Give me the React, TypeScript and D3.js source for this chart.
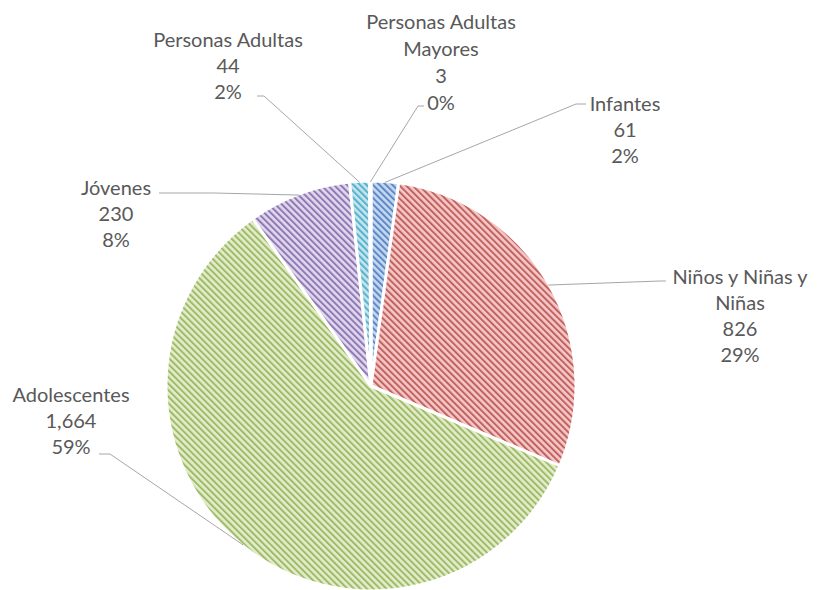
import React from "react";
import * as d3 from "d3";

// ---- data ----
const categories = [
  "Infantes",
  "Niños y Niñas y Niñas",
  "Adolescentes",
  "Jóvenes",
  "Personas Adultas",
  "Personas Adultas Mayores",
];
const values = [61, 826, 1664, 230, 44, 3];
const labelTitleLines = [
  ["Infantes"],
  ["Niños y Niñas y", "Niñas"],
  ["Adolescentes"],
  ["Jóvenes"],
  ["Personas Adultas"],
  ["Personas Adultas", "Mayores"],
];

// ---- styles ----
const patternBg = ["#c6d8f0", "#f4c8c8", "#e3edcc", "#e0d8ee", "#c4e5ef", "#fbd9bd"];
const patternFg = ["#5d88c6", "#c2625f", "#9fbb68", "#9079b3", "#58b2cb", "#f0a060"];

// ---- layout (label placement) ----
const W = 817;
const H = 590;
const cx = 371;
const cy = 386;
const R = 205;
// label center x, first-line center y, line height, leader anchor at text, elbow point
const labelLayout = [
  { x: 625, y: 104, lh: 26, anchor: [586, 104], elbow: [576, 104] },
  { x: 740, y: 277, lh: 26, anchor: [666, 281], elbow: [660, 281] },
  { x: 71, y: 395, lh: 26, anchor: [99, 454], elbow: [110, 454] },
  { x: 116, y: 188, lh: 26, anchor: [159, 193], elbow: [214, 193] },
  { x: 228, y: 40, lh: 26, anchor: [257, 96], elbow: [264, 96] },
  { x: 441, y: 22, lh: 27, anchor: [424, 106], elbow: [418, 106] },
];

export default function App() {
  const total = d3.sum(values);
  const pie = d3
    .pie<number>()
    .sort(null)
    .startAngle(0)
    .endAngle(2 * Math.PI);
  const arcs = pie(values);
  const arc = d3.arc<d3.PieArcDatum<number>>().innerRadius(0).outerRadius(R);
  const fmtNum = d3.format(",");
  const fmtPct = d3.format(".0%");

  return (
    <svg
      width={W}
      height={H}
      style={{ position: "fixed", left: 0, top: 0, background: "#fff" }}
      fontFamily="Lato, 'Open Sans', sans-serif"
    >
      <defs>
        {categories.map((c, i) => (
          <pattern
            key={c}
            id={`hatch${i}`}
            patternUnits="userSpaceOnUse"
            width={4.6}
            height={4.6}
            patternTransform="rotate(-45)"
          >
            <rect width={4.6} height={4.6} fill={patternBg[i]} />
            <rect width={2} height={4.6} fill={patternFg[i]} />
          </pattern>
        ))}
      </defs>
      <rect width={W} height={H} fill="#fff" />
      <g transform={`translate(${cx},${cy})`}>
        {arcs.map((a, i) => (
          <path
            key={categories[i]}
            d={arc(a) || ""}
            fill={`url(#hatch${i})`}
            stroke="#fff"
            strokeWidth={3}
            strokeLinejoin="round"
          />
        ))}
      </g>
      {arcs.map((a, i) => {
        const mid = (a.startAngle + a.endAngle) / 2;
        const px = cx + Math.sin(mid) * (R - 1);
        const py = cy - Math.cos(mid) * (R - 1);
        const L = labelLayout[i];
        return (
          <polyline
            key={"l" + i}
            points={`${L.anchor[0]},${L.anchor[1]} ${L.elbow[0]},${L.elbow[1]} ${px},${py}`}
            fill="none"
            stroke="#a6a6a6"
            strokeWidth={1}
          />
        );
      })}
      {arcs.map((a, i) => {
        const L = labelLayout[i];
        const lines = [
          ...labelTitleLines[i],
          fmtNum(values[i]),
          fmtPct(values[i] / total),
        ];
        return (
          <text
            key={"t" + i}
            x={L.x}
            y={L.y}
            textAnchor="middle"
            fill="#595959"
            fontSize={20}
          >
            {lines.map((ln, j) => (
              <tspan key={j} x={L.x} y={L.y + j * L.lh} dy="0.35em">
                {ln}
              </tspan>
            ))}
          </text>
        );
      })}
    </svg>
  );
}
